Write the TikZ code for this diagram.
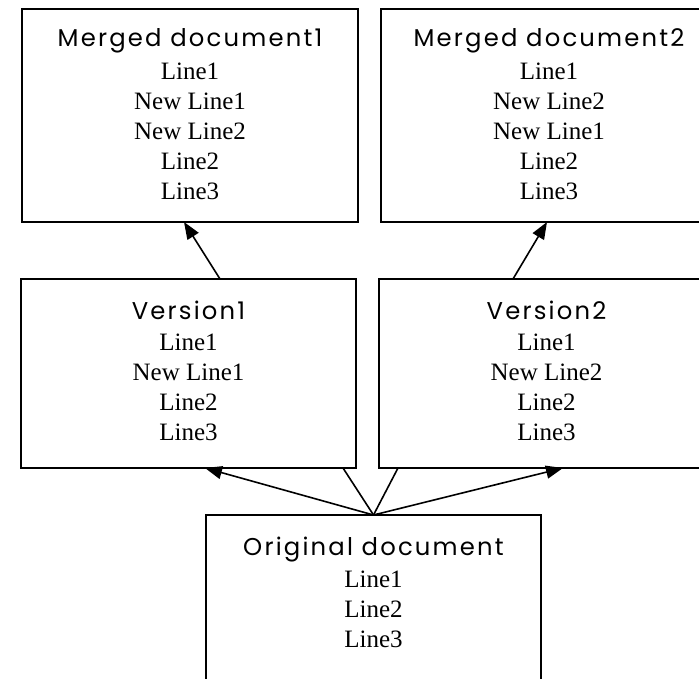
\documentclass[tikz,border=0pt]{standalone}
\usepackage{fontspec}
\setmainfont{Liberation Serif}
\newfontfamily\titlefont[LetterSpace=9]{Poppins}
\usetikzlibrary{arrows.meta}
\begin{document}
\begin{tikzpicture}[x=1pt,y=-1pt,
  box/.style={draw, line width=1.8pt, anchor=north west, inner sep=0pt, outer sep=0pt},
  ttl/.style={anchor=base, font=\titlefont\fontsize{24.3}{24.3}\selectfont, inner sep=0pt},
  ln/.style={anchor=base, font=\fontsize{25}{25}\selectfont, inner sep=0pt},
  conn/.style={line width=1.6pt},
  arr/.style={conn, -{Triangle[length=17pt,width=13pt]}}]
\clip (0,0) rectangle (699,679);
% boxes
\node[box, minimum width=336pt, minimum height=213pt] (m1) at (22,9) {};
\node[box, minimum width=336pt, minimum height=213pt] (m2) at (381,9) {};
\node[box, minimum width=335pt, minimum height=189pt] (v1) at (21,279) {};
\node[box, minimum width=335pt, minimum height=189pt] (v2) at (379,279) {};
\node[box, minimum width=335pt, minimum height=200pt] (o) at (206,515) {};
% titles
\node[ttl] (m1t) at ([yshift=-38pt]m1.north) {Merged document1};
\node[ttl] (m2t) at ([yshift=-38pt]m2.north) {Merged document2};
\node[ttl] (v1t) at ([yshift=-40pt]v1.north) {Version1};
\node[ttl] (v2t) at ([yshift=-40pt]v2.north) {Version2};
\node[ttl] (ot) at ([yshift=-40pt]o.north) {Original document};
% lines
\foreach \t [count=\i] in {Line1, New Line1, New Line2, Line2, Line3}
  \node[ln] (m1l\i) at ([yshift={-41-30*\i}]m1.north) {\t};
\foreach \t [count=\i] in {Line1, New Line2, New Line1, Line2, Line3}
  \node[ln] (m2l\i) at ([yshift={-41-30*\i}]m2.north) {\t};
\foreach \t [count=\i] in {Line1, New Line1, Line2, Line3}
  \node[ln] (v1l\i) at ([yshift={-41-30*\i}]v1.north) {\t};
\foreach \t [count=\i] in {Line1, New Line2, Line2, Line3}
  \node[ln] (v2l\i) at ([yshift={-41-30*\i}]v2.north) {\t};
\foreach \t [count=\i] in {Line1, Line2, Line3}
  \node[ln] (ol\i) at ([yshift={-42-30*\i}]o.north) {\t};
% connectors
\draw[arr] (o.north) -- ([xshift=184pt]v1.south west);
\draw[conn] (o.north) -- ([xshift=-13pt]v1.south east);
\draw[conn] (o.north) -- ([xshift=19pt]v2.south west);
\draw[arr] (o.north) -- ([xshift=184pt]v2.south west);
\draw[arr] ([xshift=199pt]v1.north west) -- ([xshift=162pt]m1.south west);
\draw[arr] ([xshift=134pt]v2.north west) -- ([xshift=166pt]m2.south west);
\end{tikzpicture}
\end{document}
